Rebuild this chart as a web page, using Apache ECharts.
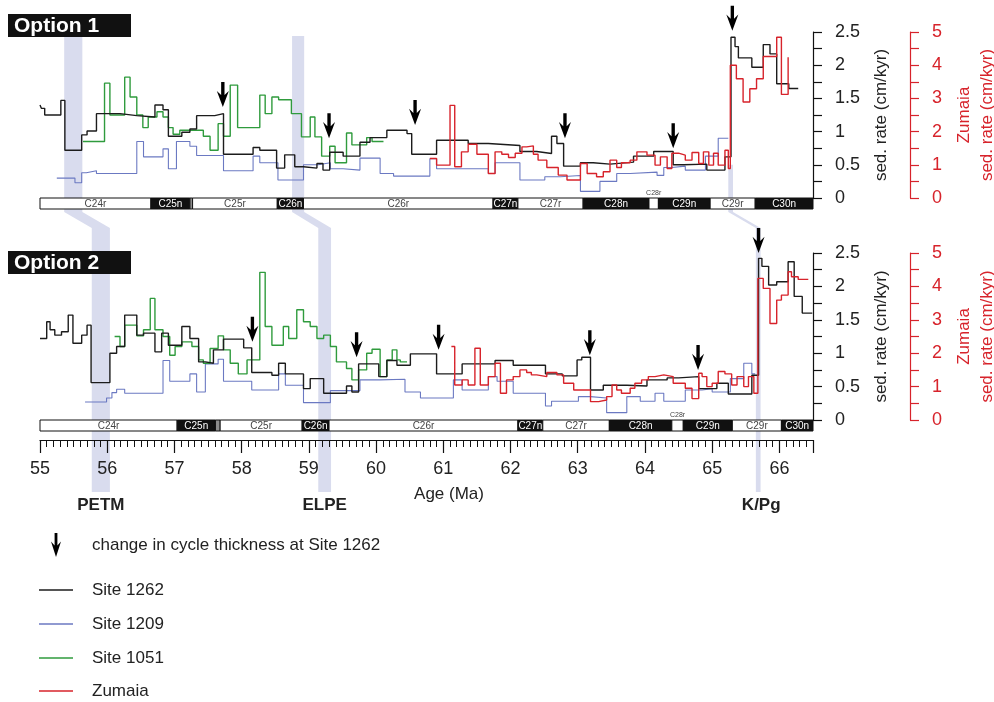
<!DOCTYPE html>
<html>
<head>
<meta charset="utf-8">
<script src="https://cdn.jsdelivr.net/npm/echarts@6.0.0/dist/echarts.min.js"></script>
<style>html,body{margin:0;padding:0;background:#fff}#main{width:994px;height:702px}</style>
</head>
<body>
<div id="main"></div>
<script>
// ---- step records [age Ma, sed. rate cm/kyr], each value holds until the next age ----
var site1262_opt1 = [[55.00,1.40],[55.02,1.35],[55.07,1.25],[55.31,1.47],[55.37,0.72],[55.62,0.95],[55.70,1.01],[55.84,1.27],
	[56.19,1.24],[56.44,1.22],[56.71,1.40],[56.83,1.33],[56.91,0.93],[57.11,0.99],[57.23,1.04],[57.33,1.24],[57.60,1.27],
	[57.73,0.66],[58.17,0.76],[58.27,0.72],[58.52,0.45],[58.64,0.65],[58.79,0.47],[58.92,0.45],[59.12,0.52],[59.21,0.42],
	[59.31,0.69],[59.51,0.63],[59.76,0.84],[59.91,0.91],[60.16,1.02],[60.46,0.97],[60.53,0.66],[60.90,0.87],[61.37,0.82],
	[61.67,0.79],[62.14,0.70],[62.39,0.67],[62.61,0.93],[62.69,0.82],[62.79,0.48],[63.04,0.53],[63.23,0.51],[63.48,0.54],
	[63.83,0.63],[64.13,0.70],[64.42,0.50],[64.57,0.51],[64.92,0.42],[65.19,0.62],[65.28,2.42],[65.34,2.28],[65.39,2.11],
	[65.59,1.97],[65.76,2.31],[65.86,2.17],[65.96,1.72],[66.14,1.65],[66.28,1.65]];
var site1209_opt1 = [[55.25,0.30],[55.52,0.23],[55.62,0.38],[55.69,0.41],[55.84,0.37],[56.44,0.85],[56.54,0.62],[56.83,0.74],
	[56.91,0.44],[57.03,0.85],[57.23,0.78],[57.33,0.64],[57.73,0.41],[58.17,0.63],[58.27,0.53],[58.54,0.27],[58.92,0.50],
	[59.14,0.53],[59.32,0.44],[59.51,0.42],[59.76,0.60],[60.06,0.37],[60.26,0.33],[60.80,0.59],[60.90,0.44],[61.67,0.37],
	[61.77,0.53],[62.14,0.27],[62.51,0.32],[62.74,0.34],[63.04,0.10],[63.33,0.25],[63.58,0.37],[63.78,0.39],[64.18,0.34],
	[64.28,0.46],[64.40,0.48],[64.60,0.42],[64.90,0.63],[65.09,0.90],[65.24,0.90]];
var site1051_opt1 = [[55.64,0.85],[55.96,1.73],[56.04,1.25],[56.26,1.82],[56.34,1.52],[56.44,1.25],[56.53,1.06],[56.61,1.22],
	[56.74,1.30],[56.83,1.22],[56.91,1.06],[56.98,0.96],[57.08,1.02],[57.43,0.93],[57.53,0.72],[57.65,1.12],[57.73,0.93],
	[57.83,1.70],[57.94,1.06],[58.27,1.55],[58.35,1.27],[58.45,1.52],[58.55,1.48],[58.74,1.27],[58.89,0.92],[59.02,1.22],
	[59.09,0.92],[59.19,0.63],[59.31,0.78],[59.39,0.53],[59.56,0.98],[59.64,0.80],[59.86,0.91],[59.94,0.85],[60.11,0.85]];
var zumaia_opt1 = [[60.80,1.19],[60.90,0.99],[61.10,2.79],[61.17,0.94],[61.27,1.39],[61.37,1.62],[61.50,1.32],[61.67,0.74],
	[61.77,1.39],[61.87,1.32],[61.97,1.22],[62.07,1.35],[62.17,1.54],[62.24,1.57],[62.34,1.32],[62.41,1.14],[62.54,0.92],
	[62.71,0.69],[62.84,0.54],[63.04,1.04],[63.14,0.74],[63.28,0.64],[63.38,0.79],[63.48,1.14],[63.58,0.92],[63.65,1.06],
	[63.78,1.14],[63.88,1.39],[64.03,1.29],[64.15,0.99],[64.23,1.24],[64.33,0.89],[64.40,1.35],[64.50,1.29],[64.60,1.14],
	[64.70,1.37],[64.80,1.04],[64.87,1.39],[64.95,0.99],[65.02,1.35],[65.09,0.99],[65.19,1.44],[65.24,0.89],[65.27,4.00],
	[65.36,3.59],[65.46,2.89],[65.56,3.29],[65.66,3.59],[65.76,4.26],[65.96,4.84],[66.03,3.12],[66.13,3.12],[66.13,4.24]];

var site1262_opt2 = [[55.00,1.22],[55.10,1.47],[55.15,1.35],[55.22,1.27],[55.32,1.32],[55.42,1.57],[55.49,1.15],[55.62,1.27],
	[55.70,1.42],[55.76,0.56],[56.04,1.00],[56.14,1.10],[56.26,1.57],[56.44,1.27],[56.54,1.30],[56.71,1.02],[56.81,1.30],
	[56.91,1.12],[57.11,1.40],[57.23,1.22],[57.36,0.87],[57.46,0.85],[57.58,1.05],[57.73,1.21],[58.03,1.08],[58.15,0.71],
	[58.45,0.67],[58.55,0.85],[58.65,0.69],[58.92,0.47],[59.02,0.62],[59.22,0.40],[59.56,0.51],[59.64,0.42],[59.74,0.84],
	[60.04,0.65],[60.16,0.89],[60.31,0.82],[60.51,0.99],[60.90,0.69],[61.28,0.84],[61.77,0.89],[62.04,0.82],[62.52,0.69],
	[62.77,0.66],[62.99,0.90],[63.06,0.94],[63.19,0.45],[63.38,0.52],[63.73,0.51],[64.03,0.60],[64.33,0.63],[64.50,0.65],
	[64.80,0.47],[65.07,0.55],[65.24,0.39],[65.59,0.67],[65.69,2.42],[65.74,2.30],[65.84,2.02],[65.96,2.07],[66.13,2.37],
	[66.22,1.85],[66.34,1.60],[66.49,1.60]];
var site1209_opt2 = [[55.67,0.27],[55.99,0.33],[56.07,0.41],[56.14,0.46],[56.26,0.40],[56.83,0.89],[56.93,0.58],[57.23,0.69],
	[57.33,0.42],[57.46,0.84],[57.65,0.91],[57.73,0.58],[58.15,0.45],[58.55,0.69],[58.65,0.52],[58.92,0.26],[59.32,0.44],
	[59.76,0.60],[60.06,0.61],[60.43,0.42],[60.66,0.33],[61.15,0.60],[61.28,0.45],[61.67,0.65],[61.80,0.58],[62.04,0.40],
	[62.52,0.21],[62.61,0.28],[63.01,0.35],[63.19,0.33],[63.43,0.11],[63.73,0.35],[63.93,0.28],[64.15,0.40],[64.28,0.28],
	[64.60,0.45],[64.85,0.47],[65.00,0.42],[65.27,0.62],[65.47,0.85],[65.59,0.69],[65.64,0.69]];
var site1051_opt2 = [[56.11,1.25],[56.19,1.10],[56.26,1.42],[56.44,1.26],[56.54,1.35],[56.64,1.82],[56.71,1.35],[56.83,1.25],
	[56.93,0.97],[57.01,1.10],[57.11,1.17],[57.26,1.10],[57.36,0.90],[57.43,0.85],[57.53,1.07],[57.65,1.26],[57.73,1.05],
	[57.83,0.85],[57.95,0.69],[58.08,0.90],[58.27,2.21],[58.35,1.40],[58.45,1.12],[58.62,1.40],[58.70,1.22],[58.82,1.65],
	[58.92,1.47],[59.02,1.40],[59.12,1.22],[59.22,1.27],[59.32,1.10],[59.41,0.87],[59.56,0.77],[59.64,0.60],[59.74,0.75],
	[59.86,1.00],[59.94,1.06],[60.06,0.65],[60.16,0.90],[60.24,1.05],[60.31,0.90],[60.36,0.87],[60.46,0.87]];
var zumaia_opt2 = [[61.12,2.20],[61.17,1.05],[61.28,1.20],[61.37,1.05],[61.47,2.15],[61.55,1.05],[61.67,1.30],[61.77,1.70],
	[61.85,0.80],[61.94,1.20],[62.04,1.30],[62.14,1.50],[62.24,1.42],[62.31,1.35],[62.39,1.30],[62.54,1.42],[62.69,1.35],
	[62.79,1.10],[62.94,0.90],[63.19,0.55],[63.31,0.60],[63.43,0.70],[63.51,1.05],[63.58,0.90],[63.65,0.80],[63.78,0.95],
	[63.85,1.10],[63.95,1.20],[64.05,1.30],[64.15,1.35],[64.28,1.30],[64.42,1.10],[64.60,0.95],[64.70,0.64],[64.80,1.40],
	[64.85,1.30],[64.92,1.00],[65.00,1.10],[65.09,1.45],[65.19,1.38],[65.29,1.05],[65.37,1.30],[65.47,1.00],[65.54,1.30],
	[65.62,0.80],[65.68,4.24],[65.76,3.94],[65.86,2.89],[65.96,3.59],[66.03,3.74],[66.13,4.44],[66.18,4.29],[66.28,4.21],
	[66.43,4.21]];

// arrows: change in cycle thickness at Site 1262 [age, tip rate]
var arrows_opt1 = [[57.72,1.37],[59.30,0.90],[60.58,1.10],[62.81,0.90],[64.42,0.75],[65.30,2.52]];
var arrows_opt2 = [[58.16,1.17],[59.71,0.94],[60.93,1.05],[63.18,0.97],[64.79,0.75],[65.69,2.50]];

// magnetochrons: boundaries (Ma) for each option
var chronNames = ['C24r','C25n','','C25r','C26n','C26r','C27n','C27r','C28n','C28r','C29n','C29r','C30n'];
var chronPolarity = ['r','n','x','r','n','r','n','r','n','r','n','r','n'];
var chronBounds_opt1 = [55.00,56.65,57.23,57.27,58.53,58.92,61.74,62.11,63.08,64.06,64.20,64.97,65.64,66.50];
var chronBounds_opt2 = [55.00,57.04,57.61,57.68,58.90,59.30,62.11,62.48,63.47,64.40,64.57,65.30,66.03,66.50];

// events (shaded bands)
var events = ['PETM','ELPE','K/Pg'];
var events_opt1 = [[55.36,55.63],[58.75,58.93],[65.24,65.31]];
var events_opt2 = [[55.77,56.04],[59.14,59.33],[65.65,65.72]];
var eventTop_opt1 = [2.44,2.44,0.5];

var FONT = '"Liberation Sans", Arial, Helvetica, sans-serif';
var C_BLACK = '#1c1c1c', C_BLUE = '#6b79c2', C_GREEN = '#2f9b3d', C_RED = '#d7232b';
var arrowPath = 'path://M3.6,0 L6.4,0 L6.4,12.5 L10,8.5 L5,24 L0,8.5 L3.6,12.5 Z';
var arrowName = 'change in cycle thickness at Site 1262';
var lineNames = ['Site 1262','Site 1209','Site 1051','Zumaia'];

var chart = echarts.init(document.getElementById('main'));

function stepLine(name, data, gi, yi, color, width) {
	return {
		type:'line', name:name, step:'end', xAxisIndex:gi, yAxisIndex:yi,
		data:data, symbol:'none', silent:true,
		lineStyle:{color:color, width:width}, itemStyle:{color:color}, z:3
	};
}

function chronSeries(bounds, gi) {
	var rows = [];
	for (var i=0;i<bounds.length-1;++i) rows.push([bounds[i], bounds[i+1], 0]);
	return {
		type:'custom', xAxisIndex:gi, yAxisIndex:gi*2, clip:false, silent:true,
		encode:{x:[0,1], y:2}, data:rows, z:4,
		renderItem:function(params, api) {
			var i = params.dataIndex;
			var p0 = api.coord([bounds[i],0]);
			var p1 = api.coord([bounds[i+1],0]);
			var h = 11, w = p1[0]-p0[0];
			var pol = chronPolarity[i];
			var fill = pol==='n' ? '#111' : (pol==='x' ? '#8c8c8c' : '#fff');
			var kids = [{type:'rect', shape:{x:p0[0], y:p0[1], width:w, height:h},
				style:{fill:fill, stroke:'#111', lineWidth:1}}];
			if (chronNames[i]) {
				var narrow = w < 16;
				kids.push({type:'text', style:{
					text:chronNames[i], x:(p0[0]+p1[0])/2, y: narrow ? p0[1]-5 : p0[1]+h/2+0.5,
					align:'center', verticalAlign:'middle',
					fill: narrow ? '#444' : (pol==='n' ? '#fff' : '#444'),
					font:(narrow ? '7px ' : '10px ') + FONT}});
			}
			return {type:'group', children:kids};
		}
	};
}

function arrowSeries(data, gi) {
	return {
		type:'scatter', name:arrowName, xAxisIndex:gi, yAxisIndex:gi*2, data:data,
		symbol:arrowPath, symbolSize:[12,25], symbolOffset:[0,'-50%'], symbolKeepAspect:false,
		clip:false, silent:true, itemStyle:{color:'#000', opacity:1}, z:6
	};
}

function blackAxis(gi) {
	return {
		type:'value', gridIndex:gi, position:'right', min:0, max:2.5, interval:0.25,
		axisLine:{show:true, onZero:false, lineStyle:{color:'#111', width:1.2}},
		axisTick:{show:true, length:9, lineStyle:{color:'#111', width:1.2}},
		splitLine:{show:false},
		axisLabel:{margin:22, color:'#222', fontSize:18, fontFamily:FONT,
			formatter:function(v){ return (Math.round(v*4)%2===0) ? String(v) : ''; }},
		name:'sed. rate (cm/kyr)', nameLocation:'middle', nameGap:60,
		nameTextStyle:{color:'#222', fontSize:17, fontFamily:FONT}
	};
}
function redAxis(gi) {
	return {
		type:'value', gridIndex:gi, position:'right', offset:97, min:0, max:5, interval:0.5,
		axisLine:{show:true, onZero:false, lineStyle:{color:C_RED, width:1.2}},
		axisTick:{show:true, length:9, lineStyle:{color:C_RED, width:1.2}},
		splitLine:{show:false},
		axisLabel:{margin:22, color:C_RED, fontSize:18, fontFamily:FONT,
			formatter:function(v){ return (Math.round(v*2)%2===0) ? String(v) : ''; }},
		name:'Zumaia\nsed. rate (cm/kyr)', nameLocation:'middle', nameGap:40,
		nameTextStyle:{color:C_RED, fontSize:17, lineHeight:23, fontFamily:FONT}
	};
}

// one legend per row, so the rows keep their own spacing
var legends = [{data:[{name:arrowName, icon:arrowPath}], left:51, top:533, padding:0,
	itemWidth:12, itemHeight:24, selectedMode:false,
	textStyle:{color:'#222', fontSize:17, fontFamily:FONT, padding:[0,0,0,25]}}];
var legendRowY = [590, 624, 658, 691];
for (var r=0;r<lineNames.length;++r) {
	legends.push({data:[{name:lineNames[r], icon:'rect'}], left:39, top:legendRowY[r]-9, padding:0,
		itemWidth:34, itemHeight:1.6, selectedMode:false,
		textStyle:{color:'#222', fontSize:17, lineHeight:18, fontFamily:FONT, padding:[0,0,0,14]}});
}

var option = {
	animation:false,
	backgroundColor:'#fff',
	textStyle:{fontFamily:FONT},
	grid:[
		{left:40, right:181, top:32, height:166, outerBoundsMode:'none', containLabel:false},
		{left:40, right:181, top:253, height:167, outerBoundsMode:'none', containLabel:false}
	],
	xAxis:[
		{type:'value', gridIndex:0, min:55, max:66.5, show:false},
		{type:'value', gridIndex:1, min:55, max:66.5, interval:1, position:'bottom', offset:20,
			axisLine:{show:true, onZero:false, lineStyle:{color:'#111', width:1.2}},
			axisTick:{show:true, length:13, lineStyle:{color:'#111', width:1.2}},
			splitLine:{show:false},
			axisLabel:{margin:20, color:'#222', fontSize:18, fontFamily:FONT,
				formatter:function(v){ return Math.abs(v-Math.round(v))<1e-6 ? String(Math.round(v)) : ''; }}},
		// minor ticks every 0.1 Ma
		{type:'value', gridIndex:1, min:55, max:66.5, interval:0.1, position:'bottom', offset:20,
			axisLine:{show:false, onZero:false}, axisLabel:{show:false}, splitLine:{show:false},
			axisTick:{show:true, length:7, lineStyle:{color:'#111', width:1}}}
	],
	yAxis:[blackAxis(0), redAxis(0), blackAxis(1), redAxis(1)],
	legend:legends,
	series:[
		stepLine('Site 1209', site1209_opt1, 0, 0, C_BLUE, 1.1),
		stepLine('Site 1051', site1051_opt1, 0, 0, C_GREEN, 1.4),
		stepLine('Site 1262', site1262_opt1, 0, 0, C_BLACK, 1.4),
		stepLine('Zumaia', zumaia_opt1, 0, 1, C_RED, 1.4),
		stepLine('Site 1209', site1209_opt2, 1, 2, C_BLUE, 1.1),
		stepLine('Site 1051', site1051_opt2, 1, 2, C_GREEN, 1.4),
		stepLine('Site 1262', site1262_opt2, 1, 2, C_BLACK, 1.4),
		stepLine('Zumaia', zumaia_opt2, 1, 3, C_RED, 1.4),
		chronSeries(chronBounds_opt1, 0),
		chronSeries(chronBounds_opt2, 1),
		arrowSeries(arrows_opt1, 0),
		arrowSeries(arrows_opt2, 1)
	]
};
chart.setOption(option);

// bands, labels and option tags, placed from the axes
var g = [];
var y0top = chart.convertToPixel({yAxisIndex:0}, 0);   // zero line panel 1
var y1top = chart.convertToPixel({yAxisIndex:2}, 2.5); // top of panel 2
var yBottom = chart.convertToPixel({yAxisIndex:2}, 0) + 72;
for (var k=0;k<events.length;++k) {
	var a1 = chart.convertToPixel({xAxisIndex:0}, events_opt1[k][0]);
	var b1 = chart.convertToPixel({xAxisIndex:0}, events_opt1[k][1]);
	var a2 = chart.convertToPixel({xAxisIndex:1}, events_opt2[k][0]);
	var b2 = chart.convertToPixel({xAxisIndex:1}, events_opt2[k][1]);
	var yt = chart.convertToPixel({yAxisIndex:0}, eventTop_opt1[k]);
	var yb1 = y0top + 14, yb2 = y1top - 25;
	g.push({type:'polygon', z:0, silent:true,
		shape:{points:[[a1,yt],[b1,yt],[b1,yb1],[b2,yb2],[b2,yBottom],[a2,yBottom],[a2,yb2],[a1,yb1]]},
		style:{fill:'#d9dcee'}});
	g.push({type:'text', z:10, silent:true, style:{text:events[k], x:(a2+b2)/2 + (k===2 ? 3 : 0), y:yBottom+13,
		align:'center', verticalAlign:'middle', fill:'#222', font:'bold 17px '+FONT}});
}
var tags = ['Option 1','Option 2'];
var tagTop = [14, 251];
for (var t=0;t<tags.length;++t) {
	g.push({type:'rect', z:10, silent:true, shape:{x:8, y:tagTop[t], width:123, height:23}, style:{fill:'#111'}});
	g.push({type:'text', z:11, silent:true, style:{text:tags[t], x:14, y:tagTop[t]+12, verticalAlign:'middle',
		fill:'#fff', font:'bold 21px '+FONT}});
}
g.push({type:'text', z:10, silent:true, style:{text:'Age (Ma)', x:449, y:494, align:'center', verticalAlign:'middle',
	fill:'#222', font:'17px '+FONT}});
chart.setOption({graphic:g});
</script>
</body>
</html>
